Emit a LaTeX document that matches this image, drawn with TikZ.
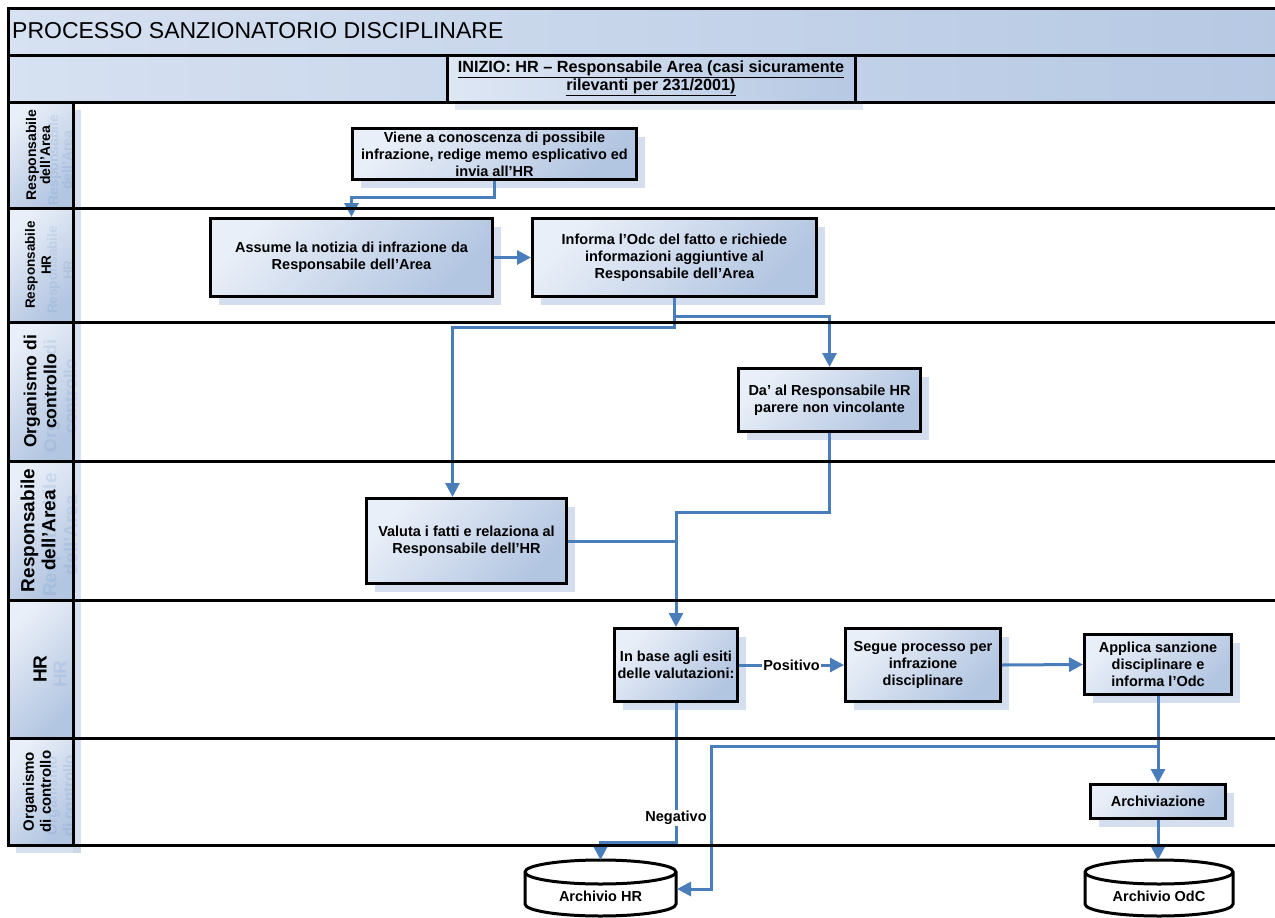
\documentclass[tikz,border=0pt]{standalone}
\usepackage{fontspec}
\setmainfont{Liberation Sans}
\usetikzlibrary{arrows.meta,calc,shadows}

\definecolor{flowblue}{HTML}{4A7EBB}
\definecolor{boxlight}{HTML}{E9EFF8}
\definecolor{boxdark}{HTML}{B2C5E1}
\definecolor{barlight}{HTML}{D6E1F1}
\definecolor{bardark}{HTML}{B6C8E3}
\definecolor{shadowblue}{HTML}{C6D4EA}

\tikzset{
  boxfont/.style={font=\bfseries\fontsize{14.5}{17}\selectfont},
  stepbox/.style={draw=black, line width=3pt, top color=boxlight, bottom color=boxdark,
    shading angle=45, align=center, inner sep=2pt, boxfont,
    drop shadow={shadow xshift=8pt, shadow yshift=-8pt, fill=shadowblue, opacity=0.75}},
  lane/.style={draw=black, line width=3pt},
  flow/.style={draw=flowblue, line width=3pt, -{Triangle[length=14pt,width=14pt]}},
  link/.style={draw=flowblue, line width=3pt},
  edgelabel/.style={fill=white, inner sep=1pt, boxfont},
  lanelabel/.style={rotate=90, align=center},
  ghost/.style={rotate=90, align=center, text=flowblue, opacity=0.14},
  cellfill/.style={top color=boxlight, bottom color=boxdark, shading angle=45},
  cyl/.style={draw=black, line width=3pt, fill=white}
}

\begin{document}
\begin{tikzpicture}[x=1pt, y=-1pt]
\clip (0,0) rectangle (1275,918);
\fill[white] (0,0) rectangle (1275,918);

% heading bars
\path[left color=barlight, right color=bardark] (8,8) rectangle (1290,102);
\node[anchor=west, font=\fontsize{23}{26}\selectfont, inner sep=0pt] (title) at (12,31) {PROCESSO SANZIONATORIO DISCIPLINARE};
\node[draw=black, line width=3pt, left color=barlight!80!white, right color=bardark, align=center,
      minimum width=408pt, minimum height=47pt, inner sep=0pt,
      font=\bfseries\fontsize{16.2}{18}\selectfont,
      drop shadow={shadow xshift=8pt, shadow yshift=-8pt, fill=shadowblue, opacity=0.5}] (start) at (651,78.5)
  {\underline{INIZIO: HR – Responsabile Area (casi sicuramente}\\\underline{rilevanti per 231/2001)}};

% lane header cells and their shadow
\fill[shadowblue, opacity=0.7] (73,110) rectangle (81,853);
\fill[shadowblue, opacity=0.7] (16,845) rectangle (81,853);
\foreach \ya/\yb in {102/208, 208/322, 322/461, 461/600, 600/738, 738/845}
  \path[cellfill] (8,\ya) rectangle (73,\yb);

% faint echo of the lane titles
\node[ghost, font=\bfseries\fontsize{14}{14}\selectfont] at (60,160) {Responsabile\\dell’Area};
\node[ghost, font=\bfseries\fontsize{13.5}{16}\selectfont] at (60,270) {Responsabile\\HR};
\node[ghost, font=\bfseries\fontsize{17.5}{20}\selectfont] at (60,396) {Organismo di\\controllo};
\node[ghost, font=\bfseries\fontsize{19}{21}\selectfont] at (60,535) {Responsabile\\dell’Area};
\node[ghost, font=\bfseries\fontsize{19}{21}\selectfont] at (60,674) {HR};
\node[ghost, font=\bfseries\fontsize{15}{17}\selectfont] at (60,796) {Organismo\\di controllo};

% lane titles
\node[lanelabel, font=\bfseries\fontsize{14}{14}\selectfont] (lane1) at (38,155) {Responsabile\\dell’Area};
\node[lanelabel, font=\bfseries\fontsize{13.5}{16}\selectfont] (lane2) at (38,265) {Responsabile\\HR};
\node[lanelabel, font=\bfseries\fontsize{17.5}{20}\selectfont] (lane3) at (40,391.5) {Organismo di\\controllo};
\node[lanelabel, font=\bfseries\fontsize{19}{21}\selectfont] (lane4) at (38,530.5) {Responsabile\\dell’Area};
\node[lanelabel, font=\bfseries\fontsize{19}{21}\selectfont] (lane5) at (40,669) {HR};
\node[lanelabel, font=\bfseries\fontsize{15}{17}\selectfont] (lane6) at (37,791.5) {Organismo\\di controllo};

% process steps
\node[stepbox, minimum width=284pt, minimum height=51pt] (A) at (494.5,154) {Viene a conoscenza di possibile\\infrazione, redige memo esplicativo ed\\invia all’HR};
\node[stepbox, minimum width=282pt, minimum height=78pt] (B) at (351.5,257.5) {Assume la notizia di infrazione da\\Responsabile dell’Area};
\node[stepbox, minimum width=284pt, minimum height=78pt] (C) at (674.5,257.5) {Informa l’Odc del fatto e richiede\\informazioni aggiuntive al\\Responsabile dell’Area};
\node[stepbox, minimum width=182pt, minimum height=63pt] (D) at (829.5,400) {Da’ al Responsabile HR\\parere non vincolante};
\node[stepbox, minimum width=200pt, minimum height=85pt] (E) at (466.5,541) {Valuta i fatti e relaziona al\\Responsabile dell’HR};
\node[stepbox, minimum width=123pt, minimum height=73pt] (F) at (676,665) {In base agli esiti\\delle valutazioni:};
\node[stepbox, minimum width=155pt, minimum height=73pt] (G) at (923,665) {Segue processo per\\infrazione\\disciplinare};
\node[stepbox, minimum width=147pt, minimum height=60pt] (H) at (1158,664.5) {Applica sanzione\\disciplinare e\\informa l’Odc};
\node[stepbox, minimum width=135pt, minimum height=34pt] (I) at (1158,801.5) {Archiviazione};

% archives
\path[cyl] (525,872) -- (525,904) arc[start angle=180, end angle=360, x radius=75.5pt, y radius=12pt]
  -- (676,872) arc[start angle=0, end angle=180, x radius=75.5pt, y radius=12pt] -- cycle;
\draw[line width=3pt] (525,872) arc[start angle=180, end angle=360, x radius=75.5pt, y radius=12pt];
\node[boxfont] (archHR) at (600.5,896) {Archivio HR};
\coordinate (hrtop) at (600.5,860);
\coordinate (hrright) at (677,889);

\path[cyl] (1085,872) -- (1085,904) arc[start angle=180, end angle=360, x radius=74pt, y radius=12pt]
  -- (1233,872) arc[start angle=0, end angle=180, x radius=74pt, y radius=12pt] -- cycle;
\draw[line width=3pt] (1085,872) arc[start angle=180, end angle=360, x radius=74pt, y radius=12pt];
\node[boxfont] (archOdC) at (1159,896) {Archivio OdC};
\coordinate (odctop) at (1158,860);

% connectors
\draw[flow] (A.south) -- ++(0,16) -| (B.north);
\draw[flow] (B.east) -- (C.west);
\draw[flow] (C.south) -- ++(0,18) -| (D.north);
\draw[flow] (C.south) -- ++(0,29) -| ($(E.north)+(-14,0)$);
\draw[flow] (D.south) -- ++(0,79) -| (F.north);
\draw[link] (E.east) -- (E.east -| F.north);
\draw[flow] (F.east) -- (G.west);
\draw[flow] (G.east) -- (H.west);
\draw[flow] (H.south) -- (I.north);
\draw[flow] ($(H.south)+(0,50)$) -| ($(hrright)+(34,0)$) -- (hrright);
\draw[flow] (F.south) -- ++(0,139) -| (hrtop);
\draw[flow] (I.south) -- (odctop);

% lane borders
\draw[lane] (8,8) -- (1290,8);
\draw[lane] (8,55) -- (1290,55);
\foreach \y in {102, 208, 322, 461, 600, 738, 845}
  \draw[lane] (8,\y) -- (1290,\y);
\draw[lane] (8,6.5) -- (8,846.5);
\draw[lane] (73,102) -- (73,845);

% connector labels
\node[edgelabel] (pos) at (791.5,665) {Positivo};
\node[edgelabel] (neg) at (676,818) {Negativo};
\end{tikzpicture}
\end{document}
